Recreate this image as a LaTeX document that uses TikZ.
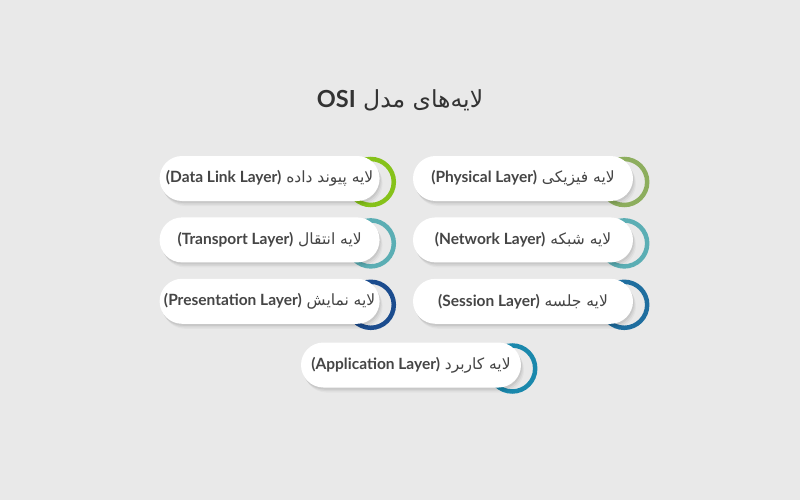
\documentclass[tikz,border=0pt]{standalone}
\usepackage{fontspec}
\setmainfont{Lato}
\newfontfamily\fafont[Script=Arabic]{DejaVu Sans}
\newfontfamily\enfont{Lato}
\TeXXeTstate=1
\usetikzlibrary{positioning, backgrounds, shadows, calc}
\definecolor{bgcol}{HTML}{E9E9E9}
\definecolor{txtcol}{HTML}{454545}
\definecolor{titlecol}{HTML}{333333}
\definecolor{physcol}{HTML}{8DAE5E}
\definecolor{dlinkcol}{HTML}{86C21A}
\definecolor{netwcol}{HTML}{5BAEB4}
\definecolor{transcol}{HTML}{5BAEB4}
\definecolor{sesscol}{HTML}{1F6E9F}
\definecolor{prescol}{HTML}{1B4C8E}
\definecolor{appcol}{HTML}{1A88AC}
\tikzstyle{layer} = [rectangle, rounded corners=22.5pt, minimum width=220pt, minimum height=45pt, text centered, fill=white, text=txtcol, font=\fontsize{15.5}{18}\selectfont, drop shadow={shadow xshift=1pt, shadow yshift=-2pt, opacity=0.06, fill=black}, drop shadow={shadow xshift=2pt, shadow yshift=-3.5pt, opacity=0.05, fill=black}, drop shadow={shadow xshift=3pt, shadow yshift=-5pt, opacity=0.03, fill=black}]
\tikzstyle{ring} = [line width=4.5pt]
\newcommand\layertext[2]{{\fafont\beginR#1 {\enfont\bfseries\beginL(#2)\endL}\endR}}

\begin{document}
\begin{tikzpicture}[x=1pt, y=-1pt, node distance=16pt and 33pt]
	\node (title) [text=titlecol, font=\fontsize{23.5}{26}\selectfont] at (400,100) {\fafont\beginR لایه‌های مدل {\enfont\bfseries\beginL OSI\endL}\endR};
	\node (phys) [layer] at (523,178.5) {\layertext{لایه فیزیکی}{Physical Layer}};
	\node (dlink) [layer, left=of phys] {\layertext{لایه پیوند داده}{Data Link Layer}};
	\node (netw) [layer, below=of phys] {\layertext{لایه شبکه}{Network Layer}};
	\node (trans) [layer, below=of dlink] {\layertext{لایه انتقال}{Transport Layer}};
	\node (sess) [layer, below=of netw] {\layertext{لایه جلسه}{Session Layer}};
	\node (pres) [layer, below=of trans] {\layertext{لایه نمایش}{Presentation Layer}};
	\node (app) [layer] at (411,365) {\layertext{لایه کاربرد}{Application Layer}};
	% background and rings behind the layers
	\begin{scope}[on background layer]
		\fill [bgcol] (0,0) rectangle (800,500);
		\draw [ring, physcol] ($(phys.east)+(-9,3.5)$) circle [radius=23pt];
		\draw [ring, dlinkcol] ($(dlink.east)+(-9,3.5)$) circle [radius=23pt];
		\draw [ring, netwcol] ($(netw.east)+(-9,3.5)$) circle [radius=23pt];
		\draw [ring, transcol] ($(trans.east)+(-9,3.5)$) circle [radius=23pt];
		\draw [ring, sesscol] ($(sess.east)+(-9,3.5)$) circle [radius=23pt];
		\draw [ring, prescol] ($(pres.east)+(-9,3.5)$) circle [radius=23pt];
		\draw [ring, appcol] ($(app.east)+(-9,3.5)$) circle [radius=23pt];
	\end{scope}
\end{tikzpicture}
\end{document}
